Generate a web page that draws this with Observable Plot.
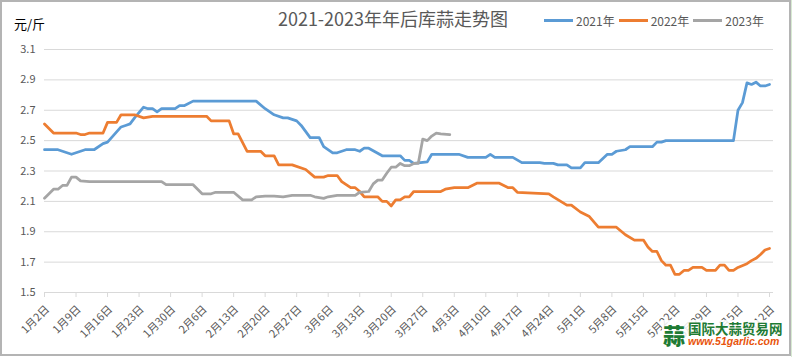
<!DOCTYPE html>
<html>
<head>
<meta charset="utf-8">
<script src="https://cdn.jsdelivr.net/npm/d3@7"></script>
<script src="https://cdn.jsdelivr.net/npm/@observablehq/plot@0.6"></script>
<style>
  html, body { margin: 0; padding: 0; background: #ffffff; }
  #wrap { position: relative; width: 792px; height: 357px; overflow: hidden; font-family: "Noto Sans CJK SC", "Noto Sans", sans-serif; }
  #chart { position: absolute; left: 0; top: 0; }
  .frame { position: absolute; left: 0; top: 0; width: 787px; height: 352px; border: 2px solid #b4b4b4; pointer-events: none; }
  .strip { position: absolute; left: 791px; top: 0; width: 1px; height: 357px; background: #d8ead3; }
  .title { position: absolute; left: 0; width: 786px; top: 5px; text-align: center; font-size: 18px; color: #595959; white-space: nowrap; }
  .unit { position: absolute; left: 14px; top: 14px; font-size: 13px; color: #000; }
  .legend { position: absolute; left: 544px; top: 12px; font-size: 12px; color: #595959; display: flex; align-items: center; white-space: nowrap; }
  .legend .sw { display: inline-block; width: 29px; height: 3px; margin-right: 3px; }
  .legend .it { display: flex; align-items: center; margin-right: 4px; }
  .wm { position: absolute; left: 662px; top: 320px; display: flex; align-items: center; background: rgba(255,255,255,0.85); padding: 1px 2px 2px 1px; }
  .wm .logo { font-size: 22px; font-weight: 900; color: #1e7b34; line-height: 1; margin-right: 3px; }
  .wm .t1 { font-size: 13.5px; font-weight: 700; color: #1e7b34; line-height: 1.1; }
  .wm .t2 { font-size: 10.5px; font-weight: 700; font-style: italic; color: #e8540c; line-height: 1.1; font-family: "Liberation Sans", sans-serif; }
</style>
</head>
<body>
<div id="wrap">
  <div id="chart"></div>
  <div class="frame"></div>
  <div class="strip"></div>
  <div class="title" id="title"></div>
  <div class="unit" id="unit"></div>
  <div class="legend" id="legend"></div>
  <div class="wm"><div class="logo">蒜</div><div><div class="t1">国际大蒜贸易网</div><div class="t2">www.51garlic.com</div></div></div>
</div>
<script>
const titleText = "2021-2023年年后库蒜走势图";
const unitText = "元/斤";
const seriesNames = ["2021年", "2022年", "2023年"];
const seriesColors = ["#5b9bd5", "#ed7d31", "#a5a5a5"];
const yTicks = [1.5, 1.7, 1.9, 2.1, 2.3, 2.5, 2.7, 2.9, 3.1];
const xTickLabels = ["1月2日","1月9日","1月16日","1月23日","1月30日","2月6日","2月13日","2月20日","2月27日","3月6日","3月13日","3月20日","3月27日","4月3日","4月10日","4月17日","4月24日","5月1日","5月8日","5月15日","5月22日","5月29日","6月5日","6月12日"];

const dates2021 = ["01-02","01-05","01-08","01-10","01-11","01-13","01-15","01-16","01-19","01-20","01-21","01-22","01-24","01-25","01-26","01-27","01-28","01-31","02-01","02-02","02-04","02-18","02-20","02-22","02-24","02-25","02-26","02-27","02-28","03-02","03-04","03-05","03-07","03-08","03-10","03-12","03-13","03-14","03-15","03-18","03-22","03-23","03-24","03-25","03-28","03-29","04-04","04-06","04-10","04-11","04-12","04-16","04-18","04-22","04-23","04-25","04-26","04-28","04-29","05-01","05-02","05-05","05-07","05-08","05-09","05-11","05-12","05-17","05-18","05-19","05-20","06-04","06-05","06-06","06-07","06-08","06-09","06-10","06-11","06-12"];
const values2021 = [2.44,2.44,2.41,2.43,2.44,2.44,2.48,2.49,2.59,2.60,2.61,2.65,2.72,2.71,2.71,2.69,2.71,2.71,2.73,2.73,2.76,2.76,2.71,2.67,2.65,2.65,2.64,2.63,2.60,2.52,2.52,2.46,2.42,2.42,2.44,2.44,2.43,2.45,2.45,2.40,2.40,2.37,2.37,2.35,2.36,2.41,2.41,2.39,2.39,2.41,2.39,2.39,2.355,2.355,2.35,2.35,2.34,2.34,2.32,2.32,2.355,2.355,2.41,2.41,2.43,2.44,2.46,2.46,2.49,2.49,2.50,2.50,2.70,2.75,2.88,2.87,2.885,2.86,2.86,2.87];

const dates2022 = ["01-02","01-03","01-04","01-09","01-10","01-11","01-12","01-15","01-16","01-18","01-19","01-22","01-24","01-26","02-07","02-08","02-12","02-13","02-14","02-16","02-19","02-20","02-22","02-23","02-26","03-01","03-03","03-05","03-06","03-08","03-09","03-11","03-12","03-13","03-14","03-17","03-18","03-19","03-20","03-21","03-22","03-23","03-24","03-25","03-31","04-01","04-03","04-06","04-08","04-13","04-14","04-15","04-16","04-17","04-24","04-25","04-28","04-29","05-01","05-03","05-05","05-09","05-11","05-13","05-15","05-16","05-17","05-18","05-19","05-20","05-21","05-22","05-23","05-24","05-25","05-26","05-28","05-29","05-31","06-01","06-02","06-03","06-04","06-05","06-07","06-08","06-09","06-10","06-11","06-12"];
const values2022 = [2.61,2.58,2.55,2.55,2.54,2.54,2.55,2.55,2.62,2.62,2.67,2.67,2.65,2.66,2.66,2.63,2.63,2.545,2.545,2.43,2.43,2.40,2.40,2.34,2.34,2.31,2.26,2.26,2.27,2.27,2.23,2.19,2.19,2.165,2.13,2.13,2.10,2.10,2.07,2.11,2.11,2.13,2.13,2.165,2.165,2.18,2.19,2.19,2.22,2.22,2.205,2.19,2.19,2.16,2.15,2.13,2.075,2.075,2.03,2.00,1.93,1.93,1.88,1.845,1.845,1.80,1.77,1.77,1.71,1.68,1.68,1.62,1.62,1.645,1.645,1.665,1.665,1.645,1.645,1.68,1.68,1.645,1.645,1.665,1.69,1.71,1.725,1.75,1.78,1.79];

const dates2023 = ["01-02","01-04","01-05","01-06","01-07","01-08","01-09","01-10","01-12","01-28","01-29","02-04","02-05","02-06","02-08","02-09","02-13","02-15","02-17","02-18","02-20","02-22","02-24","02-26","03-02","03-03","03-05","03-06","03-08","03-12","03-13","03-15","03-16","03-17","03-18","03-19","03-20","03-21","03-22","03-23","03-24","03-25","03-26","03-27","03-28","03-29","03-30","03-31","04-02"];
const values2023 = [2.12,2.18,2.18,2.205,2.205,2.26,2.26,2.235,2.23,2.23,2.21,2.21,2.18,2.15,2.15,2.16,2.16,2.11,2.11,2.13,2.135,2.135,2.13,2.14,2.14,2.13,2.12,2.13,2.14,2.14,2.16,2.165,2.215,2.24,2.24,2.285,2.325,2.325,2.35,2.335,2.335,2.35,2.35,2.51,2.50,2.53,2.55,2.545,2.54];

// common calendar (month/day) on a non-leap year
const parseMD = s => { const [m, d] = s.split("-").map(Number); return new Date(Date.UTC(2021, m - 1, d)); };
const parseLabel = l => { const m = l.match(/(\d+)月(\d+)日/); return new Date(Date.UTC(2021, +m[1] - 1, +m[2])); };

const rows = [];
[[seriesNames[0], dates2021, values2021], [seriesNames[1], dates2022, values2022], [seriesNames[2], dates2023, values2023]]
  .forEach(([name, ds, vs]) => ds.forEach((d, i) => rows.push({series: name, date: parseMD(d), value: vs[i]})));

const tickDates = xTickLabels.map(parseLabel);
const labelMap = new Map(tickDates.map((d, i) => [+d, xTickLabels[i]]));

const chart = Plot.plot({
  width: 792,
  height: 357,
  marginLeft: 44,
  marginRight: 19,
  marginTop: 49,
  marginBottom: 65,
  style: {fontFamily: '"Noto Sans CJK SC", "Noto Sans", sans-serif', fontSize: "11px", color: "#595959", background: "transparent", overflow: "visible"},
  x: {type: "utc", domain: [tickDates[0], tickDates[tickDates.length - 1]], range: [44, 769]},
  y: {domain: [1.5, 3.1]},
  color: {domain: seriesNames, range: seriesColors},
  marks: [
    Plot.ruleY(yTicks, {stroke: "#d9d9d9", strokeWidth: 1}),
    Plot.axisY({ticks: yTicks, tickSize: 0, tickPadding: 9, tickFormat: d3.format(".1f"), label: null, fill: "#595959"}),
    Plot.axisX({ticks: tickDates, tickSize: 5, tickFormat: () => "", label: null, stroke: "#d9d9d9"}),
    Plot.axisX({ticks: tickDates, tickSize: 0, tickPadding: 15, tickRotate: -45, tickFormat: d => labelMap.get(+d), label: null, fill: "#595959", dx: 3}),
    Plot.lineY(rows, {x: "date", y: "value", z: "series", stroke: "series", strokeWidth: 2.75, strokeLinejoin: "round", strokeLinecap: "round"})
  ]
});
document.getElementById("chart").appendChild(chart);

document.getElementById("title").textContent = titleText;
document.getElementById("unit").textContent = unitText;
const lg = document.getElementById("legend");
seriesNames.forEach((n, i) => {
  const it = document.createElement("div"); it.className = "it";
  const sw = document.createElement("span"); sw.className = "sw"; sw.style.background = seriesColors[i];
  const tx = document.createElement("span"); tx.textContent = n;
  it.appendChild(sw); it.appendChild(tx); lg.appendChild(it);
});
</script>
</body>
</html>
